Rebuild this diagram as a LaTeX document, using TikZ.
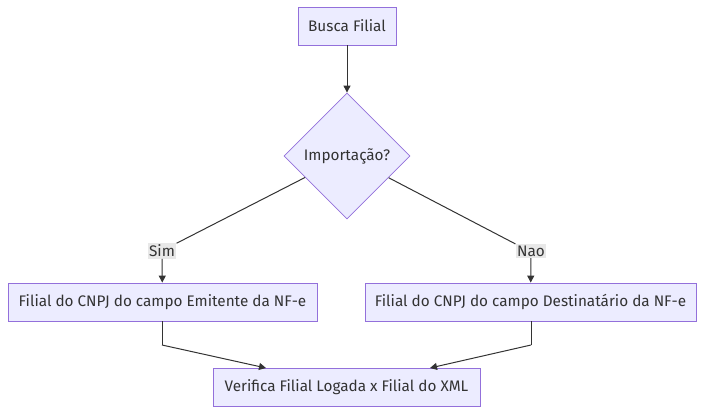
\documentclass[tikz,border=0pt]{standalone}
\usepackage{fontspec}
\setmainfont{Fira Sans}
\usetikzlibrary{shapes.geometric,arrows.meta}
\definecolor{nodefill}{HTML}{ECECFF}
\definecolor{nodeborder}{HTML}{9370DB}
\definecolor{linecol}{HTML}{333333}
\definecolor{labelbg}{HTML}{E8E8E8}
\begin{document}
\begin{tikzpicture}[x=1pt,y=-1pt,
  every node/.style={font=\fontsize{15.3}{17}\selectfont, text=linecol},
  box/.style={draw=nodeborder, fill=nodefill, line width=0.8pt, rectangle, minimum height=38pt, inner xsep=9pt},
  decision/.style={draw=nodeborder, fill=nodefill, line width=0.8pt, diamond, minimum width=126pt, minimum height=126pt, inner sep=0pt},
  elabel/.style={fill=labelbg, inner sep=1.5pt},
  conn/.style={draw=linecol, line width=1pt},
  arr/.style={conn, -{Triangle[length=7pt,width=7pt]}}
]
\useasboundingbox (0,0) rectangle (704,414);
\node[box, minimum width=98pt] (busca) at (347,26) {Busca Filial};
\node[decision] (imp) at (347,156) {Importação?};
\node[elabel] (sim) at (162,251) {Sim};
\node[elabel] (nao) at (531,251) {Nao};
\node[box, minimum width=309pt] (emit) at (162.5,302) {Filial do CNPJ do campo Emitente da NF-e};
\node[box, minimum width=331pt] (dest) at (530.5,302) {Filial do CNPJ do campo Destinatário da NF-e};
\node[box, minimum width=267pt] (verif) at (346.5,387) {Verifica Filial Logada x Filial do XML};
\coordinate (lbend) at (162,345);
\coordinate (rbend) at (531,345);
\coordinate (lin) at (266,368);
\coordinate (rin) at (430,368);
\draw[arr] (busca) -- (imp);
\draw[conn] (imp) -- (sim.north east);
\draw[arr] (sim) -- (emit);
\draw[conn] (imp) -- (nao.north west);
\draw[arr] (nao) -- (dest);
\draw[conn] (emit.south -| lbend) -- (lbend);
\draw[arr] (lbend) -- (lin);
\draw[conn] (dest.south -| rbend) -- (rbend);
\draw[arr] (rbend) -- (rin);
\end{tikzpicture}
\end{document}
